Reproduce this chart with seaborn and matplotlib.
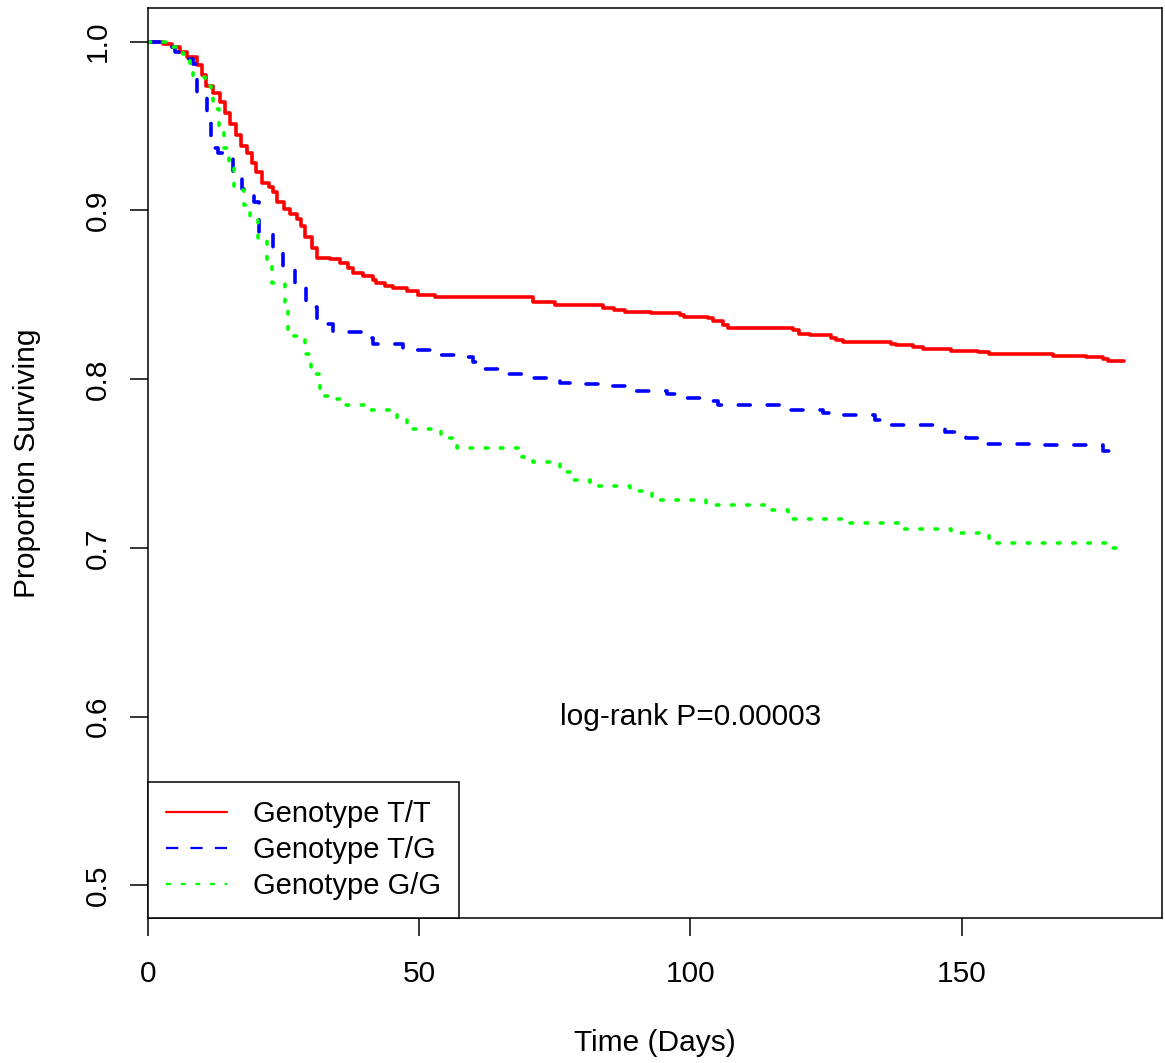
import numpy as np
import pandas as pd
import matplotlib
matplotlib.use("Agg")
import matplotlib.pyplot as plt
from matplotlib.lines import Line2D
import seaborn as sns

# ---- data ----
tt_time = [0, 2.8, 4.4, 5.9, 7.1, 9.0, 9.9, 10.7, 12.0, 13.3, 14.2, 15.1, 16.3, 17.2, 18.2,
           19.1, 20.0, 21.0, 22.3, 23.0, 23.7, 25.0, 26.2, 27.4, 28.3, 28.9, 30.2, 31.1, 33.5,
           35.4, 36.9, 37.8, 39.6, 41.5, 42.1, 43.7, 45.2, 47.7, 49.8, 52.9, 71.0, 75.0, 83.9,
           86.0, 87.9, 92.8, 98.0, 98.9, 103.2, 104.2, 106.0, 106.9, 118.9, 120.1, 122.0, 126.0,
           126.9, 128.1, 137.0, 137.9, 141.0, 142.8, 148.0, 153.0, 155.1, 166.8, 173.0, 176.0,
           177.0, 180.0]
tt_surv = [1.0, 0.9988, 0.997, 0.994, 0.991, 0.986, 0.980, 0.974, 0.9695, 0.964, 0.958, 0.951,
           0.945, 0.938, 0.934, 0.928, 0.923, 0.916, 0.914, 0.911, 0.905, 0.901, 0.898, 0.895,
           0.891, 0.884, 0.878, 0.872, 0.871, 0.869, 0.866, 0.863, 0.861, 0.859, 0.857, 0.855,
           0.854, 0.852, 0.850, 0.849, 0.846, 0.844, 0.8424, 0.841, 0.840, 0.839, 0.838, 0.837,
           0.836, 0.8345, 0.832, 0.8306, 0.829, 0.827, 0.826, 0.8246, 0.8234, 0.822, 0.821, 0.820,
           0.819, 0.818, 0.817, 0.816, 0.815, 0.814, 0.813, 0.812, 0.811, 0.811]

tg_time = [0, 3.5, 5.0, 7.0, 8.3, 9.0, 10.8, 11.7, 12.9, 15.7, 17.3, 19.5, 20.5, 23.1, 24.9,
           27.1, 29.2, 31.1, 34.2, 39.7, 41.5, 47.0, 52.0, 57.8, 60.0, 61.2, 64.9, 69.8, 75.9,
           79.0, 84.5, 89.4, 95.6, 98.6, 103.9, 105.1, 118.0, 124.4, 127.8, 134.0, 136.7, 144.7,
           146.9, 150.9, 154.5, 165.0, 176.0, 178.0]
tg_surv = [1.0, 0.997, 0.994, 0.99, 0.987, 0.9705, 0.954, 0.937, 0.934, 0.919, 0.913, 0.905,
           0.887, 0.8765, 0.8656, 0.8547, 0.843, 0.833, 0.828, 0.8245, 0.821, 0.8175, 0.8145,
           0.813, 0.810, 0.806, 0.803, 0.8005, 0.798, 0.797, 0.7957, 0.793, 0.791, 0.789, 0.787,
           0.785, 0.782, 0.780, 0.779, 0.776, 0.7726, 0.7716, 0.769, 0.765, 0.7617, 0.761,
           0.7577, 0.7577]

gg_time = [0, 4.1, 6.5, 7.7, 8.3, 10.5, 11.7, 12.0, 13.0, 14.0, 14.9, 15.8, 17.7, 18.8, 20.2,
           21.9, 22.8, 25.2, 25.9, 28.9, 30.0, 31.7, 34.0, 35.7, 38.0, 41.2, 46.0, 47.8, 54.0,
           57.0, 68.9, 71.0, 75.9, 78.0, 81.5, 88.8, 92.9, 102.9, 115.0, 118.0, 128.9, 139.0,
           148.1, 155.0, 177.9, 180.0]
gg_surv = [1.0, 0.997, 0.993, 0.986, 0.979, 0.9735, 0.9675, 0.96, 0.95, 0.937, 0.927, 0.912,
           0.903, 0.895, 0.882, 0.868, 0.857, 0.842, 0.8256, 0.8147, 0.803, 0.790, 0.788, 0.785,
           0.7845, 0.782, 0.7765, 0.7706, 0.765, 0.7593, 0.7537, 0.751, 0.745, 0.740, 0.737,
           0.734, 0.7286, 0.7257, 0.7227, 0.7172, 0.7147, 0.7114, 0.7088, 0.703, 0.6999, 0.6999]

labels = ["Genotype T/T", "Genotype T/G", "Genotype G/G"]
colors = ["#FF0000", "#0000FF", "#00FF00"]
x_ticks = [0, 50, 100, 150]
y_ticks = [0.5, 0.6, 0.7, 0.8, 0.9, 1.0]
y_ticklabels = ["0.5", "0.6", "0.7", "0.8", "0.9", "1.0"]
annotation = "log-rank P=0.00003"

df = pd.concat([
    pd.DataFrame({"Time": tt_time, "Surv": tt_surv, "Genotype": labels[0]}),
    pd.DataFrame({"Time": tg_time, "Surv": tg_surv, "Genotype": labels[1]}),
    pd.DataFrame({"Time": gg_time, "Surv": gg_surv, "Genotype": labels[2]}),
], ignore_index=True)

# ---- style ----
sns.set_theme(style="white")
plt.rcParams["font.family"] = ["Liberation Sans", "DejaVu Sans"]
plt.rcParams["text.color"] = "black"
plt.rcParams["axes.labelcolor"] = "black"
plt.rcParams["xtick.color"] = "black"
plt.rcParams["ytick.color"] = "black"
plt.rcParams["axes.edgecolor"] = "black"
plt.rcParams["axes.linewidth"] = 1.1

FS = 21.5
LFS = 21

fig = plt.figure(figsize=(11.65, 10.63), dpi=100)
ax = fig.add_axes([148 / 1165, 1 - 918 / 1063, (1161.7 - 148) / 1165, (918 - 8) / 1063])

palette = dict(zip(labels, colors))
dash_map = {labels[0]: "", labels[1]: (3.3, 4.7), labels[2]: (0.7, 3.5)}
sns.lineplot(data=df, x="Time", y="Surv", hue="Genotype", style="Genotype",
             hue_order=labels, style_order=labels, palette=palette, dashes=dash_map,
             estimator=None, sort=False, drawstyle="steps-post", linewidth=2.6,
             dash_capstyle="round", legend=False, ax=ax)

ax.set_xlim(0, 186.9)
ax.set_ylim(0.4807, 1.0200)
ax.set_xticks(x_ticks)
ax.set_xticklabels([str(v) for v in x_ticks], fontsize=FS)
ax.set_yticks(y_ticks)
ax.set_yticklabels(y_ticklabels, fontsize=FS, rotation=90, va="center")
ax.tick_params(axis="both", direction="out", length=13, width=1.1, color="black",
               labelcolor="black")
ax.tick_params(axis="x", pad=17, bottom=True)
ax.tick_params(axis="y", pad=13, left=True)
for sp in ax.spines.values():
    sp.set_visible(True)
    sp.set_color("black")
    sp.set_linewidth(1.1)

ax.set_xlabel("Time (Days)", fontsize=FS, labelpad=30, color="black")
ax.set_ylabel("Proportion Surviving", fontsize=FS, labelpad=31, color="black")

ax.text(100, 0.6, annotation, ha="center", va="center", fontsize=FS, color="black")

handles = [
    Line2D([], [], color=colors[0], lw=1.6),
    Line2D([], [], color=colors[1], lw=1.6, dashes=(5.5, 5.5)),
    Line2D([], [], color=colors[2], lw=1.6, dashes=(2.2, 4.4)),
]
leg = ax.legend(handles, labels, loc="lower left", bbox_to_anchor=(0, 0),
                borderaxespad=0, fontsize=LFS, frameon=True, fancybox=False,
                edgecolor="black", framealpha=1, borderpad=0.62, labelspacing=0.27,
                handlelength=2.1, handletextpad=0.89)
leg.get_frame().set_linewidth(1.1)
for t in leg.get_texts():
    t.set_color("black")

fig.savefig("out.png", dpi=100, facecolor="white")
